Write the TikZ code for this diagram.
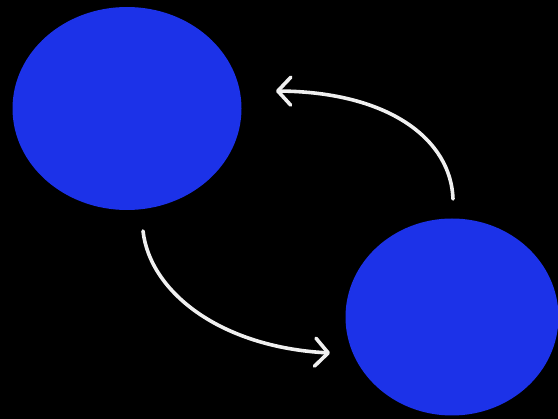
\documentclass[tikz,border=0pt]{standalone}
\usetikzlibrary{arrows.meta,shapes.geometric}
\definecolor{ballblue}{RGB}{28,50,232}
\begin{document}
\begin{tikzpicture}[x=1pt,y=-1pt,
  ball/.style={ellipse,fill=ballblue,draw=none,inner sep=0pt},
  flow/.style={draw=white!94!black,line width=3.6pt,line cap=round,
    -{Straight Barb[length=13pt,width=28pt,line cap=round,line join=round]}}]
  \useasboundingbox (0,0) rectangle (558,419);
  \fill[black] (0,0) rectangle (558,419);
  \clip (0,0) rectangle (558,419);
  \node[ball,minimum width=229pt,minimum height=203pt] (e1) at (127,108.5) {};
  \node[ball,minimum width=213pt,minimum height=197pt] (e2) at (452,317) {};
  \coordinate (a1s) at (143,231);
  \coordinate (a1e) at (330,353);
  \coordinate (a2s) at (453,199);
  \coordinate (a2e) at (276,91);
  \draw[flow] (a1s) .. controls (150,292) and (220,347) .. (a1e);
  \draw[flow] (a2s) .. controls (451,140) and (390,92) .. (a2e);
\end{tikzpicture}
\end{document}
